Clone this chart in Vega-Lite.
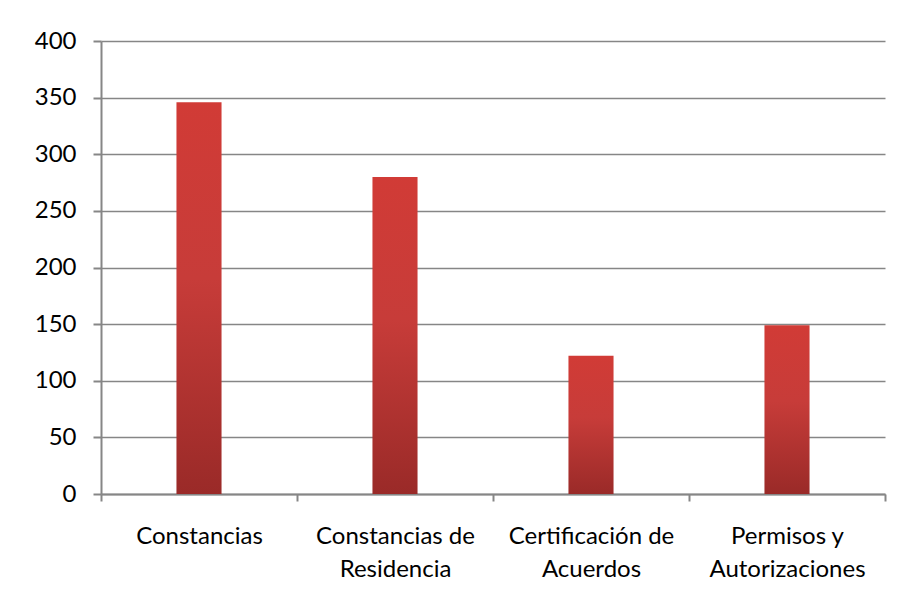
{
  "$schema": "https://vega.github.io/schema/vega-lite/v6.json",
  "width": 784,
  "height": 453,
  "autosize": {"type": "none"},
  "padding": {"left": 101, "top": 41, "right": 14, "bottom": 113},
  "background": "white",
  "data": {
    "values": [
      {"categoria": "Constancias", "valor": 346},
      {"categoria": "Constancias de|Residencia", "valor": 280},
      {"categoria": "Certificación de|Acuerdos", "valor": 122},
      {"categoria": "Permisos y|Autorizaciones", "valor": 149}
    ]
  },
  "mark": {
    "type": "bar",
    "width": {"band": 0.23},
    "color": {
      "gradient": "linear",
      "x1": 0, "y1": 0, "x2": 0, "y2": 1,
      "stops": [
        {"offset": 0, "color": "#d13b36"},
        {"offset": 0.45, "color": "#c73c39"},
        {"offset": 1, "color": "#9a2a28"}
      ]
    }
  },
  "encoding": {
    "x": {
      "field": "categoria",
      "type": "nominal",
      "sort": null,
      "scale": {"paddingInner": 0, "paddingOuter": 0},
      "axis": {
        "title": null,
        "labelAngle": 0,
        "tickBand": "extent",
        "tickSize": 7,
        "tickColor": "#868686",
        "domainColor": "#868686",
        "labelPadding": 23,
        "labelBaseline": "top",
        "labelExpr": "datum.value ? split(datum.value, '|') : ''",
        "labelLineHeight": 33,
        "labelFont": "Lato",
        "labelFontSize": 24,
        "labelColor": "#000000",
        "labelLimit": 300
      }
    },
    "y": {
      "field": "valor",
      "type": "quantitative",
      "scale": {"domain": [0, 400], "nice": false},
      "axis": {
        "title": null,
        "values": [0, 50, 100, 150, 200, 250, 300, 350, 400],
        "tickSize": 8,
        "tickColor": "#868686",
        "domainColor": "#868686",
        "gridColor": "#868686",
        "labelPadding": 17,
        "labelFont": "Lato",
        "labelFontSize": 24,
        "labelColor": "#000000"
      }
    }
  },
  "config": {
    "view": {"stroke": null},
    "axis": {"domainWidth": 2, "tickWidth": 2, "gridWidth": 1.5}
  }
}
